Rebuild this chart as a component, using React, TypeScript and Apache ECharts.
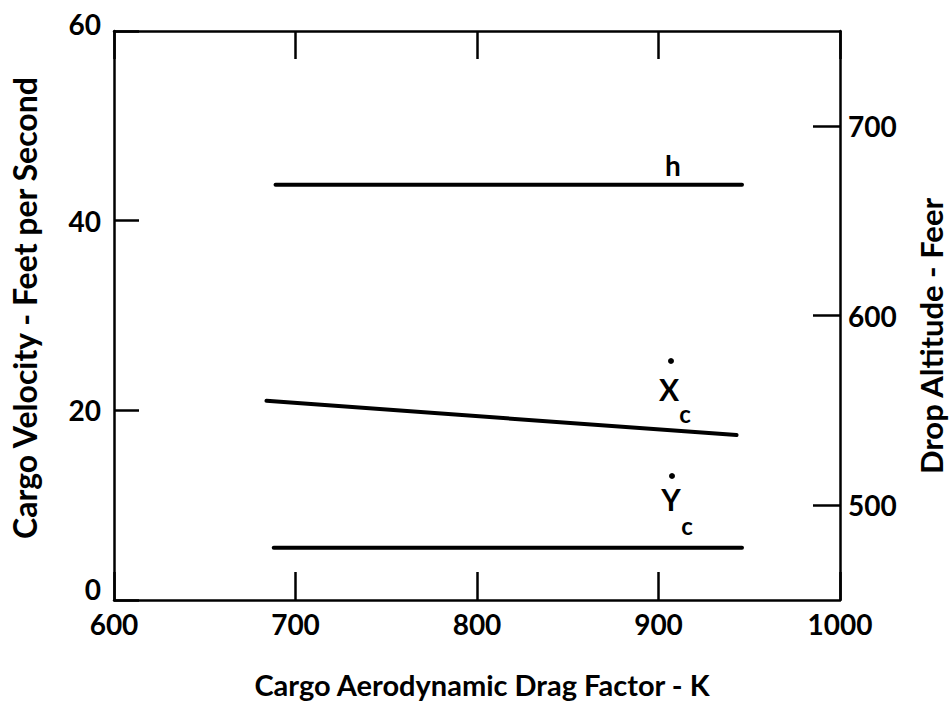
import React, { useEffect, useRef } from "react";
import * as echarts from "echarts";

const xTicks = [600, 700, 800, 900, 1000];
const leftTicks = [0, 20, 40, 60];
const rightTicks = [500, 600, 700];

// Drop altitude h (ft, right axis)
const hK = [689, 946];
const hVal = [669, 669];
// Cargo horizontal velocity X-dot c (ft/s, left axis)
const xcK = [684, 943];
const xcVal = [21.0, 17.4];
// Cargo vertical velocity Y-dot c (ft/s, left axis)
const ycK = [688, 946];
const ycVal = [5.5, 5.5];

const xTitle = "Cargo Aerodynamic Drag Factor - K";
const yLeftTitle = "Cargo Velocity - Feet per Second";
const yRightTitle = "Drop Altitude - Feer";

const FONT = "Lato";

export default function App() {
  const ref = useRef<HTMLDivElement>(null);
  useEffect(() => {
    document.body.style.margin = "0";
    const chart = echarts.init(ref.current!, null, { renderer: "svg" });
    const axisLineStyle = { color: "#000", width: 2.5 };
    const labelStyle = { color: "#000", fontFamily: FONT, fontWeight: "bold" as const, fontSize: 28 };
    const pair = (a: number[], b: number[]) => a.map((v, i) => [v, b[i]]);
    const lineSeries = (name: string, data: number[][], yAxisIndex: number) => ({
      name,
      type: "line",
      yAxisIndex,
      data,
      symbol: "none",
      lineStyle: { color: "#000", width: 4, cap: "round" },
      silent: true,
    });
    chart.setOption({
      animation: false,
      backgroundColor: "#fff",
      grid: { left: 114, right: 111, top: 31, bottom: 103, containLabel: false },
      xAxis: [
        {
          type: "value",
          position: "bottom",
          min: xTicks[0],
          max: xTicks[xTicks.length - 1],
          interval: 100,
          axisLine: { show: true, lineStyle: axisLineStyle },
          axisTick: { show: true, inside: true, length: 28, lineStyle: { color: "#000", width: 2.5 } },
          axisLabel: { ...labelStyle, margin: 10, formatter: (v: number) => String(v) },
          splitLine: { show: false },
        },
        {
          type: "value",
          position: "top",
          min: xTicks[0],
          max: xTicks[xTicks.length - 1],
          interval: 100,
          axisLine: { show: true, lineStyle: axisLineStyle },
          axisTick: { show: true, inside: true, length: 28, lineStyle: { color: "#000", width: 2.5 } },
          axisLabel: { show: false },
          splitLine: { show: false },
        },
      ],
      yAxis: [
        {
          type: "value",
          position: "left",
          min: leftTicks[0],
          max: leftTicks[leftTicks.length - 1],
          interval: 20,
          axisLine: { show: true, lineStyle: axisLineStyle },
          axisTick: { show: true, inside: true, length: 25, lineStyle: { color: "#000", width: 2.5 } },
          axisLabel: {
            ...labelStyle,
            margin: 13,
            formatter: (v: number) =>
              v === leftTicks[0] ? `{lo|${v}}` : v === leftTicks[leftTicks.length - 1] ? `{hi|${v}}` : String(v),
            rich: {
              lo: { ...labelStyle, padding: [0, 0, 22, 0] },
              hi: { ...labelStyle, padding: [0, 0, 14, 0] },
            },
          },
          splitLine: { show: false },
        },
        {
          type: "value",
          position: "right",
          min: 450,
          max: 750,
          axisLine: { show: true, lineStyle: axisLineStyle },
          axisTick: {
            show: true,
            inside: true,
            length: 27,
            customValues: rightTicks,
            lineStyle: { color: "#000", width: 2.5 },
          },
          axisLabel: { ...labelStyle, margin: 8, customValues: rightTicks },
          splitLine: { show: false },
        },
      ],
      series: [
        lineSeries("h", pair(hK, hVal), 1),
        lineSeries("Xc", pair(xcK, xcVal), 0),
        lineSeries("Yc", pair(ycK, ycVal), 0),
      ],
      graphic: [
        {
          type: "text",
          x: 482,
          y: 684,
          style: { text: xTitle, fill: "#000", font: `bold 29px ${FONT}`, textAlign: "center", textVerticalAlign: "middle" },
        },
        {
          type: "text",
          x: 24,
          y: 308,
          rotation: Math.PI / 2,
          style: { text: yLeftTitle, fill: "#000", font: `bold 32px ${FONT}`, textAlign: "center", textVerticalAlign: "middle" },
        },
        {
          type: "text",
          x: 931,
          y: 336,
          rotation: Math.PI / 2,
          style: { text: yRightTitle, fill: "#000", font: `bold 31px ${FONT}`, textAlign: "center", textVerticalAlign: "middle" },
        },
        {
          type: "text",
          x: 673,
          y: 165,
          style: { text: "h", fill: "#000", font: `bold 28px ${FONT}`, textAlign: "center", textVerticalAlign: "middle" },
        },
        { type: "circle", shape: { cx: 671, cy: 361, r: 3 }, style: { fill: "#000" } },
        {
          type: "text",
          x: 669,
          y: 389,
          style: { text: "X", fill: "#000", font: `bold 30px ${FONT}`, textAlign: "center", textVerticalAlign: "middle" },
        },
        {
          type: "text",
          x: 685,
          y: 413,
          style: { text: "c", fill: "#000", font: `bold 24px ${FONT}`, textAlign: "center", textVerticalAlign: "middle" },
        },
        { type: "circle", shape: { cx: 672, cy: 476, r: 3 }, style: { fill: "#000" } },
        {
          type: "text",
          x: 671,
          y: 499,
          style: { text: "Y", fill: "#000", font: `bold 30px ${FONT}`, textAlign: "center", textVerticalAlign: "middle" },
        },
        {
          type: "text",
          x: 687,
          y: 525,
          style: { text: "c", fill: "#000", font: `bold 24px ${FONT}`, textAlign: "center", textVerticalAlign: "middle" },
        },
      ],
    });
    return () => chart.dispose();
  }, []);
  return (
    <div
      ref={ref}
      style={{ position: "fixed", left: 0, top: 0, width: 951, height: 703, background: "#fff" }}
    />
  );
}
